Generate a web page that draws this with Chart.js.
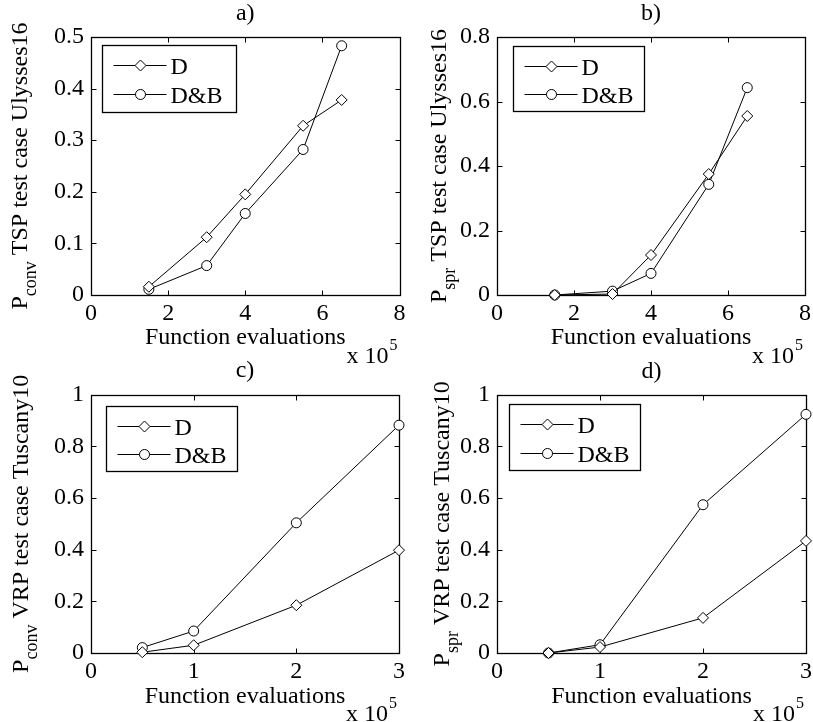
<!DOCTYPE html>
<html><head><meta charset="utf-8">
<script src="https://cdn.jsdelivr.net/npm/chart.js@4/dist/chart.umd.min.js"></script>
<style>
html,body{margin:0;padding:0;background:#fff;width:813px;height:722px;overflow:hidden}
canvas{position:absolute}
</style></head><body>
<canvas id="ca" width="406" height="366" style="left:0;top:0;width:406px;height:366px"></canvas>
<canvas id="cb" width="407" height="366" style="left:406px;top:0;width:407px;height:366px"></canvas>
<canvas id="cc" width="406" height="362" style="left:0;top:360px;width:406px;height:362px"></canvas>
<canvas id="cd" width="407" height="362" style="left:406px;top:360px;width:407px;height:362px"></canvas>
<script>
// ---- data ----
const seriesLabels = ['D', 'D&B'];
const panelTitles = ['a)', 'b)', 'c)', 'd)'];
const xLabel = 'Function evaluations';
const xExponent = ['x 10', '5'];
const yLabelA = ['P', 'conv', ' TSP test case Ulysses16'];
const yLabelB = ['P', 'spr', ' TSP test case Ulysses16'];
const yLabelC = ['P', 'conv', ' VRP test case Tuscany10'];
const yLabelD = ['P', 'spr', ' VRP test case Tuscany10'];

const xTSP = [1.5, 3, 4, 5.5, 6.5];           // x 10^5
const xVRP = [0.5, 1, 2, 3];                  // x 10^5

const aD  = [0.016, 0.112, 0.195, 0.328, 0.378];
const aDB = [0.011, 0.057, 0.158, 0.282, 0.483];
const bD  = [0, 0.003, 0.124, 0.375, 0.555];
const bDB = [0, 0.012, 0.067, 0.343, 0.643];
const cD  = [0.003, 0.030, 0.185, 0.398];
const cDB = [0.021, 0.085, 0.504, 0.882];
const dD  = [0, 0.023, 0.136, 0.434];
const dDB = [0, 0.032, 0.574, 0.924];

const xTicksTSP = [0, 2, 4, 6, 8];
const xTicksVRP = [0, 1, 2, 3];
const yTicksA = [0, 0.1, 0.2, 0.3, 0.4, 0.5];
const yTicksB = [0, 0.2, 0.4, 0.6, 0.8];
const yTicksCD = [0, 0.2, 0.4, 0.6, 0.8, 1];

// ---- rendering ----
const FONT = '"Liberation Serif", "Times New Roman", serif';

const framePlugin = {
  id: 'matlabFrame',
  beforeDatasetsDraw(chart) {
    const {ctx, chartArea: ca, scales: {x, y}} = chart;
    ctx.save();
    ctx.strokeStyle = '#000';
    ctx.lineWidth = 1.3;
    const L = Math.round(ca.left) + 0.5, R = Math.round(ca.right) + 0.5;
    const T = Math.round(ca.top) + 0.5, B = Math.round(ca.bottom) + 0.5;
    ctx.strokeRect(L, T, R - L, B - T);
    const tl = 5;
    ctx.lineWidth = 1;
    ctx.beginPath();
    x.ticks.forEach(t => {
      const p = Math.round(x.getPixelForValue(t.value)) + 0.5;
      ctx.moveTo(p, B); ctx.lineTo(p, B - tl);
      ctx.moveTo(p, T); ctx.lineTo(p, T + tl);
    });
    y.ticks.forEach(t => {
      const p = Math.round(y.getPixelForValue(t.value)) + 0.5;
      ctx.moveTo(L, p); ctx.lineTo(L + tl, p);
      ctx.moveTo(R, p); ctx.lineTo(R - tl, p);
    });
    ctx.stroke();
    ctx.restore();
  }
};

const legendPlugin = {
  id: 'matlabLegend',
  afterDatasetsDraw(chart, args, o) {
    const {ctx, chartArea: ca} = chart;
    const bx = Math.round(ca.left + o.dx) + 0.5, by = Math.round(ca.top + o.dy) + 0.5;
    ctx.save();
    ctx.fillStyle = '#fff';
    ctx.fillRect(bx, by, o.w, o.h);
    ctx.strokeStyle = '#000';
    ctx.lineWidth = 1.3;
    ctx.strokeRect(bx, by, o.w, o.h);
    chart.data.datasets.forEach((ds, i) => {
      const yy = Math.round(by + o.rows[i]) + 0.5;
      ctx.strokeStyle = '#000';
      ctx.lineWidth = 1;
      ctx.beginPath();
      ctx.moveTo(bx + 11, yy); ctx.lineTo(bx + 64, yy);
      ctx.stroke();
      ctx.fillStyle = '#fff';
      Chart.helpers.drawPoint(ctx, {pointStyle: ds.pointStyle, radius: ds.pointRadius, borderWidth: 1, rotation: 0}, bx + 38, yy);
      ctx.fillStyle = '#000';
      ctx.font = '24px ' + FONT;
      ctx.textBaseline = 'middle';
      ctx.textAlign = 'left';
      ctx.fillText(ds.label, bx + 68, yy + 2);
    });
    ctx.restore();
  }
};

const labelsPlugin = {
  id: 'matlabLabels',
  afterDraw(chart, args, o) {
    const {ctx, chartArea: ca} = chart;
    ctx.save();
    ctx.fillStyle = '#000';
    // y label with subscript
    const [p, sub, rest] = o.yLabel;
    const main = '24px ' + FONT, subF = '18px ' + FONT;
    ctx.font = main; const wP = ctx.measureText(p).width; const wR = ctx.measureText(rest).width;
    ctx.font = subF; const wS = ctx.measureText(sub).width;
    ctx.translate(ca.left + o.yTitleDx, (ca.top + ca.bottom) / 2);
    ctx.rotate(-Math.PI / 2);
    ctx.textBaseline = 'alphabetic';
    ctx.textAlign = 'left';
    let xx = -(wP + wS + wR) / 2;
    ctx.font = main; ctx.fillText(p, xx, 0); xx += wP;
    ctx.font = subF; ctx.fillText(sub, xx, 9); xx += wS;
    ctx.font = main; ctx.fillText(rest, xx, 0);
    ctx.setTransform(1, 0, 0, 1, 0, 0);
    // x exponent
    ctx.font = '24px ' + FONT;
    const ex = ca.right - 53;
    ctx.fillText(xExponent[0], ex, ca.bottom + 68);
    const w10 = ctx.measureText(xExponent[0]).width;
    ctx.font = '16px ' + FONT;
    ctx.fillText(xExponent[1], ex + w10 + 1, ca.bottom + 55);
    ctx.restore();
  }
};

function ds(label, xs, ys, style, r) {
  return {
    label, data: xs.map((x, i) => ({x, y: ys[i]})),
    borderColor: '#000', borderWidth: 1, tension: 0,
    pointStyle: style, pointRadius: r, pointBorderWidth: 1,
    pointBorderColor: '#000', pointBackgroundColor: '#fff',
    clip: false, fill: false
  };
}

function makeChart(id, c) {
  return new Chart(document.getElementById(id), {
    type: 'line',
    data: {datasets: [
      ds(seriesLabels[0], c.xs, c.d, 'rectRot', 5.5),
      ds(seriesLabels[1], c.xs, c.db, 'circle', 5)
    ]},
    options: {
      responsive: false, animation: false, events: [],
      layout: {padding: {left: 0, right: c.padR, top: c.padT, bottom: 0}},
      scales: {
        x: {
          type: 'linear', min: c.xTicks[0], max: c.xTicks[c.xTicks.length - 1],
          afterBuildTicks: s => { s.ticks = c.xTicks.map(v => ({value: v})); },
          afterFit: s => { s.height = c.xH; s.paddingLeft = 0; s.paddingRight = 0; },
          grid: {display: false, drawTicks: false}, border: {display: false},
          ticks: {color: '#000', font: {family: FONT, size: 24}, padding: 4, maxRotation: 0, autoSkip: false,
                  callback: v => String(+(+v).toFixed(2))},
          title: {display: true, text: xLabel, color: '#000', font: {family: FONT, size: 24, lineHeight: 1},
                  padding: {top: 0, bottom: c.xTitlePad}}
        },
        y: {
          type: 'linear', min: c.yTicks[0], max: c.yTicks[c.yTicks.length - 1],
          afterBuildTicks: s => { s.ticks = c.yTicks.map(v => ({value: v})); },
          afterFit: s => { s.width = 91; s.paddingTop = 0; s.paddingBottom = 0; },
          grid: {display: false, drawTicks: false}, border: {display: false},
          ticks: {color: '#000', font: {family: FONT, size: 24}, padding: 7, autoSkip: false,
                  callback: v => String(+(+v).toFixed(2))}
        }
      },
      plugins: {
        legend: {display: false}, tooltip: {enabled: false},
        title: {display: true, text: c.title, fullSize: false, color: '#000',
                font: {family: FONT, size: 24, weight: 'normal', lineHeight: 0.8},
                padding: {top: 0, bottom: c.titlePadB}},
        matlabLegend: c.legend,
        matlabLabels: {yLabel: c.yLabel, yTitleDx: c.yTitleDx}
      }
    },
    plugins: [framePlugin, legendPlugin, labelsPlugin]
  });
}

makeChart('ca', {xs: xTSP, d: aD, db: aDB, xTicks: xTicksTSP, yTicks: yTicksA, title: panelTitles[0],
  yLabel: yLabelA, padR: 6, padT: 4, titlePadB: 13.8, xH: 71, xTitlePad: 16, yTitleDx: -64,
  legend: {dx: 11, dy: 8, w: 134, h: 67, rows: [19, 48]}});
makeChart('cb', {xs: xTSP, d: bD, db: bDB, xTicks: xTicksTSP, yTicks: yTicksB, title: panelTitles[1],
  yLabel: yLabelB, padR: 8, padT: 4, titlePadB: 13.8, xH: 71, xTitlePad: 16, yTitleDx: -51,
  legend: {dx: 16, dy: 9, w: 131, h: 65, rows: [19, 47]}});
makeChart('cc', {xs: xVRP, d: cD, db: cDB, xTicks: xTicksVRP, yTicks: yTicksCD, title: panelTitles[2],
  yLabel: yLabelC, padR: 7, padT: 1, titlePadB: 14.5, xH: 69, xTitlePad: 13, yTitleDx: -63,
  legend: {dx: 15, dy: 11, w: 131, h: 65, rows: [19, 47]}});
makeChart('cd', {xs: xVRP, d: dD, db: dDB, xTicks: xTicksVRP, yTicks: yTicksCD, title: panelTitles[3],
  yLabel: yLabelD, padR: 7, padT: 2, titlePadB: 13.5, xH: 69, xTitlePad: 13, yTitleDx: -48,
  legend: {dx: 12, dy: 9, w: 131, h: 66, rows: [19, 48]}});
</script>
</body></html>
